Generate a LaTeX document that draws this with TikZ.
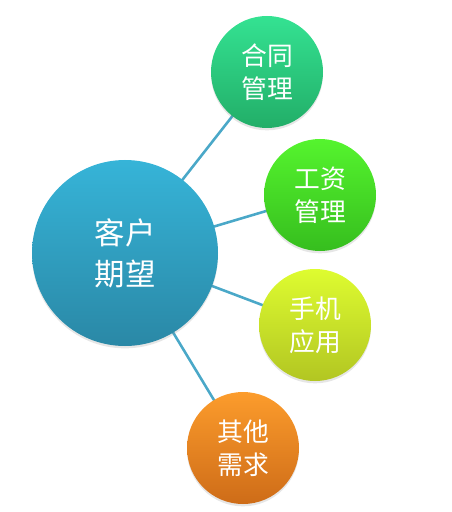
\documentclass[tikz,border=0pt]{standalone}
\usepackage{fontspec}
\newfontfamily\cjk{Noto Sans CJK SC}
\usetikzlibrary{shadows,backgrounds}
\definecolor{linkblue}{HTML}{4AA8C8}
\definecolor{mainTop}{HTML}{36B4D8}
\definecolor{mainBot}{HTML}{2A88A6}
\definecolor{teaTop}{HTML}{34E292}
\definecolor{teaBot}{HTML}{22AE68}
\definecolor{grnTop}{HTML}{55F42E}
\definecolor{grnBot}{HTML}{36BE1E}
\definecolor{ylwTop}{HTML}{DEFC30}
\definecolor{ylwBot}{HTML}{B2C622}
\definecolor{orgTop}{HTML}{FC9C2C}
\definecolor{orgBot}{HTML}{CE6C18}
\tikzset{
    bubble/.style={circle, inner sep=0pt, text=white, align=center,
        drop shadow={shadow xshift=0pt, shadow yshift=-2pt, opacity=0.2}},
    mainbubble/.style={bubble, minimum size=186*0.03cm, top color=mainTop, bottom color=mainBot,
        font=\cjk\fontsize{26}{35}\selectfont},
    smallbubble/.style={bubble, minimum size=112*0.03cm,
        font=\cjk\fontsize{22}{28}\selectfont},
    link/.style={linkblue, line width=2.2pt}
}
\begin{document}
\begin{tikzpicture}[x=0.03cm, y=-0.03cm]
    \useasboundingbox (0,0) rectangle (451,512);
    %cerchio centrale
    \node[mainbubble] (expect) at (125,253) {客户\\期望};
    %cerchi laterali
    \node[smallbubble, top color=teaTop, bottom color=teaBot] (contract) at (267,72) {合同\\管理};
    \node[smallbubble, top color=grnTop, bottom color=grnBot] (salary) at (320,195) {工资\\管理};
    \node[smallbubble, top color=ylwTop, bottom color=ylwBot] (mobile) at (315,325) {手机\\应用};
    \node[smallbubble, top color=orgTop, bottom color=orgBot] (other) at (243,448) {其他\\需求};
    %collegamenti
    \begin{scope}[on background layer]
        \draw[link] (expect.center) -- (contract.center);
        \draw[link] (expect.center) -- (salary.center);
        \draw[link] (expect.center) -- (mobile.center);
        \draw[link] (expect.center) -- (other.center);
    \end{scope}
\end{tikzpicture}
\end{document}
